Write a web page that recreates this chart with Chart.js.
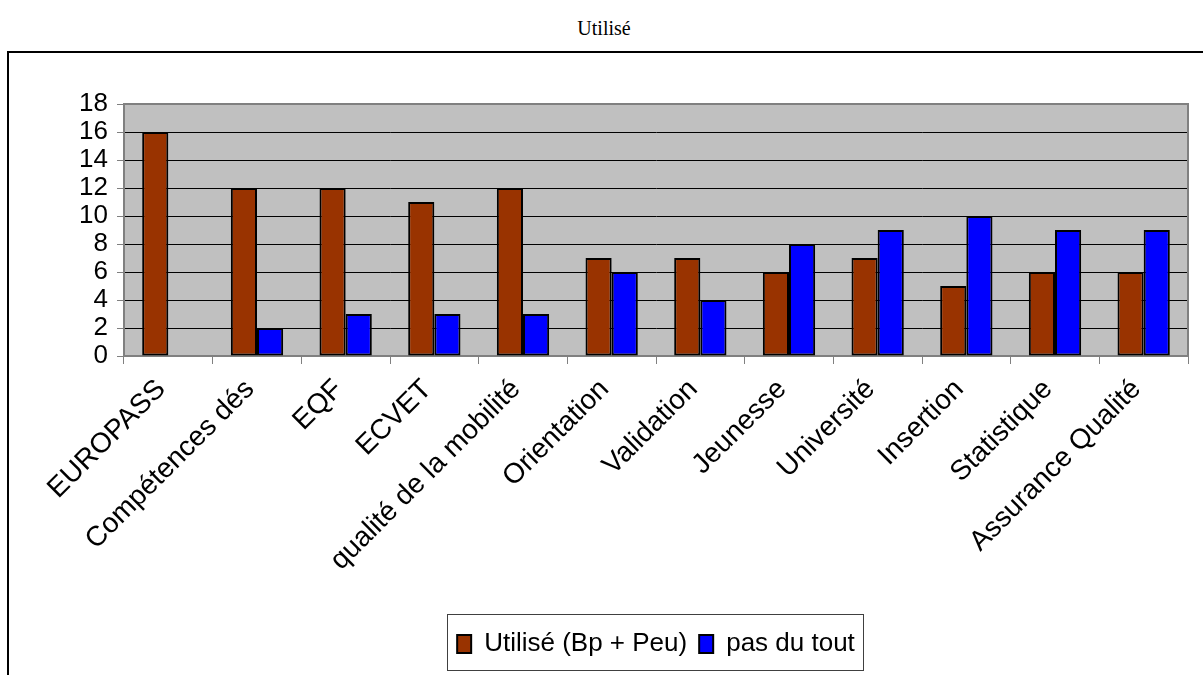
<!DOCTYPE html>
<html>
<head>
<meta charset="utf-8">
<script src="https://cdn.jsdelivr.net/npm/chart.js@4.4.1/dist/chart.umd.min.js"></script>
<style>
    html, body { margin: 0; padding: 0; background: #ffffff; overflow: hidden; width: 1203px; height: 675px; }
    #titre { position: absolute; left: 0; top: 17px; width: 1208px; text-align: center; font-family: "Liberation Serif", "DejaVu Serif", serif; font-size: 20px; color: #000; }
    #cadre { position: absolute; left: 7px; top: 51px; width: 1300px; height: 660px; border: 2px solid #000; }
    #myChart { position: absolute; left: 0; top: 0; }
</style>
</head>
<body>
<div id="titre">Utilisé</div>
<div id="cadre"><canvas id="myChart" width="1194" height="622"></canvas></div>
<script>
    var categories = ['EUROPASS', 'Compétences dés', 'EQF', 'ECVET', 'qualité de la mobilité', 'Orientation',
        'Validation', 'Jeunesse', 'Université', 'Insertion', 'Statistique', 'Assurance Qualité'];
    var utilise = [16, 12, 12, 11, 12, 7, 7, 6, 7, 5, 6, 6];
    var pasDuTout = [null, 2, 3, 3, 3, 6, 4, 8, 9, 10, 9, 9];
    var seriesLabels = ['Utilisé (Bp + Peu)', 'pas du tout'];
    var yTicks = [0, 2, 4, 6, 8, 10, 12, 14, 16, 18];

    var police = 'Liberation Sans';

    // gray plot background + gray frame on top and right
    var fondGris = {
        id: 'fondGris',
        beforeDraw: function (chart) {
            var a = chart.chartArea;
            var ctx = chart.ctx;
            ctx.save();
            ctx.fillStyle = '#C0C0C0';
            ctx.fillRect(a.left, a.top, a.right - a.left, a.bottom - a.top);
            ctx.restore();
        },
        afterDatasetsDraw: function (chart) {
            var a = chart.chartArea;
            var ctx = chart.ctx;
            ctx.save();
            ctx.strokeStyle = '#808080';
            ctx.lineWidth = 2;
            ctx.beginPath();
            ctx.moveTo(a.left, a.top);
            ctx.lineTo(a.right, a.top);
            ctx.lineTo(a.right, a.bottom);
            ctx.stroke();
            ctx.restore();
        }
    };

    // frame around the legend
    var cadreLegende = {
        id: 'cadreLegende',
        afterDraw: function (chart) {
            var boxes = chart.legend.legendHitBoxes;
            if (!boxes || !boxes.length) return;
            var minX = boxes[0].left, maxX = boxes[0].left + boxes[0].width;
            var minY = boxes[0].top, maxY = boxes[0].top + boxes[0].height;
            boxes.forEach(function (b) {
                minX = Math.min(minX, b.left);
                maxX = Math.max(maxX, b.left + b.width);
                minY = Math.min(minY, b.top);
                maxY = Math.max(maxY, b.top + b.height);
            });
            var ctx = chart.ctx;
            ctx.save();
            ctx.strokeStyle = '#404040';
            ctx.lineWidth = 1;
            ctx.strokeRect(Math.round(minX - 10) + 0.5, Math.round(minY - 17) + 0.5,
                Math.round(maxX - minX + 18), Math.round(maxY - minY + 30));
            ctx.restore();
        }
    };

    const data = {
        labels: categories,
        datasets: [
            {
                label: seriesLabels[0],
                data: utilise,
                backgroundColor: '#993300',
                borderColor: '#000000',
                borderWidth: 2,
                borderSkipped: false
            },
            {
                label: seriesLabels[1],
                data: pasDuTout,
                backgroundColor: '#0000FF',
                borderColor: '#000000',
                borderWidth: 2,
                borderSkipped: false
            }
        ]
    };

    const config = {
        type: 'bar',
        data: data,
        options: {
            responsive: false,
            animation: false,
            categoryPercentage: 0.59,
            barPercentage: 1,
            layout: {
                padding: { top: 51, right: 15, left: 0, bottom: 8 }
            },
            plugins: {
                title: { display: false },
                tooltip: { enabled: false },
                legend: {
                    position: 'bottom',
                    fullSize: false,
                    labels: {
                        color: '#000000',
                        font: { family: police, size: 26 },
                        boxWidth: 14,
                        boxHeight: 18,
                        padding: 12,
                        useBorderRadius: false
                    }
                }
            },
            scales: {
                x: {
                    grid: {
                        offset: true,
                        drawOnChartArea: false,
                        color: '#808080',
                        tickLength: 8
                    },
                    border: { display: true, color: '#808080', width: 2 },
                    ticks: {
                        color: '#000000',
                        font: { family: police, size: 28 },
                        maxRotation: 45,
                        minRotation: 45,
                        autoSkip: false,
                        labelOffset: -7,
                        padding: 9
                    },
                    afterFit: function (scale) {
                        scale.height = 263;
                    }
                },
                y: {
                    min: 0,
                    max: 18,
                    afterBuildTicks: function (scale) {
                        scale.ticks = yTicks.map(function (v) { return { value: v }; });
                    },
                    grid: {
                        color: function (context) {
                            if (context.tick.value === 18 || context.tick.value === 0) {
                                return '#808080';
                            }
                            return '#000000';
                        },
                        tickColor: '#808080',
                        tickLength: 7,
                        lineWidth: 1
                    },
                    border: { display: true, color: '#808080', width: 2 },
                    ticks: {
                        color: '#000000',
                        font: { family: police, size: 26 },
                        padding: 9,
                        autoSkip: false
                    },
                    afterFit: function (scale) {
                        scale.width = 115;
                    }
                }
            }
        },
        plugins: [fondGris, cadreLegende]
    };

    var ctx = document.getElementById('myChart').getContext('2d');
    var myChart = new Chart(ctx, config);
</script>
</body>
</html>
